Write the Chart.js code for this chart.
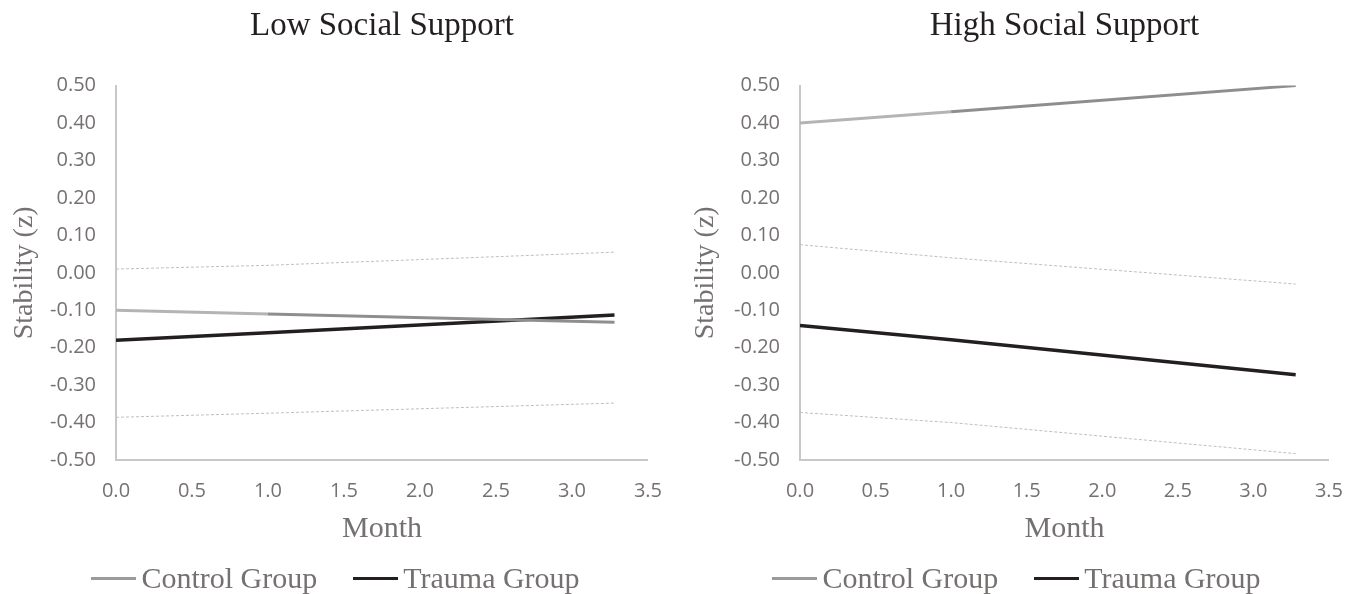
<!DOCTYPE html>
<html>
<head>
<meta charset="utf-8">
<script src="https://cdn.jsdelivr.net/npm/chart.js@4"></script>
<style>
  html, body { margin: 0; padding: 0; background: #fff; }
  .wrap { display: flex; width: 1362px; height: 594px; }
  .box { width: 681px; height: 594px; position: relative; }
  .legend {
    position: absolute; left: 0; width: 671px; top: 561px; height: 34px;
    display: flex; justify-content: center; align-items: center;
    font-family: 'Liberation Serif', 'DejaVu Serif', serif; font-size: 30px; color: #767171;
  }
  .legend .item { display: flex; align-items: center; margin: 0 18px; white-space: nowrap; }
  .legend .line { display: inline-block; width: 45px; height: 3px; margin-right: 5px; }
</style>
</head>
<body>
<div class="wrap">
  <div class="box"><canvas id="lowChart"></canvas><div class="legend" id="lowLegend"></div></div>
  <div class="box"><canvas id="highChart"></canvas><div class="legend" id="highLegend"></div></div>
</div>
<script>
const months = [0, 1, 3.28];

// Low social support
const lowControl = [-0.10, -0.11, -0.132];
const lowTrauma = [-0.18, -0.16, -0.113];
const lowUpper = [0.01, 0.02, 0.055];
const lowLower = [-0.386, -0.375, -0.348];

// High social support
const highControl = [0.40, 0.43, 0.50];
const highTrauma = [-0.141, -0.179, -0.272];
const highUpper = [0.075, 0.04, -0.03];
const highLower = [-0.373, -0.40, -0.483];

const yTicks = ["0.50", "0.40", "0.30", "0.20", "0.10", "0.00", "-0.10", "-0.20", "-0.30", "-0.40", "-0.50"];
const xTicks = ["0.0", "0.5", "1.0", "1.5", "2.0", "2.5", "3.0", "3.5"];

const serif = "'Liberation Serif', 'DejaVu Serif', serif";
const sans = "'Open Sans', 'Noto Sans', sans-serif";
const grayText = "#767171";

const toPoints = (vals) => vals.map((v, i) => ({ x: months[i], y: v }));

function makeChart(id, legendId, title, control, trauma, upper, lower, yWidth, padRight) {
  const datasets = [
    {
      label: "Control Group",
      data: toPoints(control),
      borderColor: "#9a9a9a",
      backgroundColor: "#9a9a9a",
      borderWidth: 3,
      segment: {
        borderColor: (ctx) => ctx.p0DataIndex === 0 ? "#b4b4b4" : "#8e8e8e"
      },
      pointRadius: 0
    },
    {
      label: "Trauma Group",
      data: toPoints(trauma),
      borderColor: "#231f20",
      backgroundColor: "#231f20",
      borderWidth: 3.5,
      pointRadius: 0
    },
    {
      label: "upper",
      data: toPoints(upper),
      borderColor: "#bfbfbf",
      borderWidth: 1,
      borderDash: [3, 2],
      pointRadius: 0
    },
    {
      label: "lower",
      data: toPoints(lower),
      borderColor: "#bfbfbf",
      borderWidth: 1,
      borderDash: [3, 2],
      pointRadius: 0
    }
  ];

  const chart = new Chart(document.getElementById(id), {
    type: "line",
    data: { datasets: datasets },
    options: {
      responsive: true,
      maintainAspectRatio: false,
      animation: false,
      layout: { padding: { left: 0, right: padRight, top: 0, bottom: 0 } },
      plugins: {
        title: {
          display: true,
          text: title,
          fullSize: false,
          color: "#231f20",
          font: { family: serif, size: 33, weight: "normal" },
          padding: { top: 7, bottom: 39 }
        },
        legend: { display: false },
        tooltip: { enabled: false }
      },
      scales: {
        x: {
          type: "linear",
          min: 0,
          max: 3.5,
          grid: { display: false, drawTicks: false },
          border: { display: true, color: "#c8c8c8", width: 2 },
          ticks: {
            stepSize: 0.5,
            color: grayText,
            font: { family: sans, size: 20 },
            padding: 19,
            callback: (v, i) => xTicks[i]
          },
          title: {
            display: true,
            text: "Month",
            color: grayText,
            font: { family: serif, size: 30 },
            padding: { top: 4, bottom: 47 }
          },
          afterFit: (scale) => { scale.height = 134; }
        },
        y: {
          min: -0.5,
          max: 0.5,
          grid: { display: false, drawTicks: false },
          border: { display: true, color: "#c8c8c8", width: 2 },
          ticks: {
            stepSize: 0.1,
            color: grayText,
            font: { family: sans, size: 20 },
            padding: 20,
            callback: (v, i, all) => yTicks[all.length - 1 - i]
          },
          title: {
            display: true,
            text: "Stability (z)",
            color: grayText,
            font: { family: serif, size: 28 },
            padding: { top: 8, bottom: 0 }
          },
          afterFit: (scale) => { scale.width = yWidth; }
        }
      }
    }
  });

  // legend for the two group lines only
  const legend = document.getElementById(legendId);
  chart.data.datasets.slice(0, 2).forEach((ds) => {
    const item = document.createElement("span");
    item.className = "item";
    const line = document.createElement("span");
    line.className = "line";
    line.style.backgroundColor = ds.backgroundColor;
    item.appendChild(line);
    item.appendChild(document.createTextNode(ds.label));
    legend.appendChild(item);
  });
  return chart;
}

makeChart("lowChart", "lowLegend", "Low Social Support", lowControl, lowTrauma, lowUpper, lowLower, 116, 31);
makeChart("highChart", "highLegend", "High Social Support", highControl, highTrauma, highUpper, highLower, 119, 29);
</script>
</body>
</html>
